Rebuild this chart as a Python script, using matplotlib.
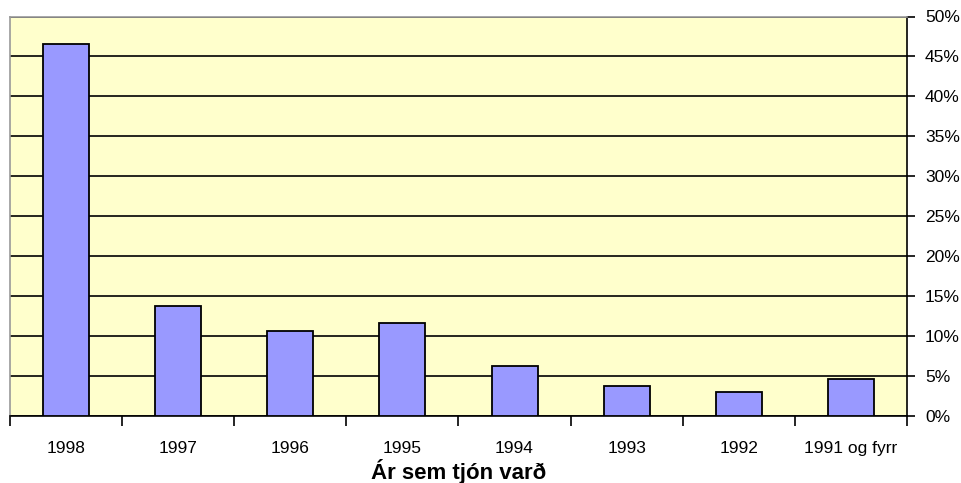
import matplotlib.pyplot as plt
import numpy as np
from matplotlib.ticker import FixedLocator, PercentFormatter

years = ['1998', '1997', '1996', '1995', '1994', '1993', '1992', '1991 og fyrr']
shares = [46.6, 13.75, 10.6, 11.6, 6.3, 3.7, 3.0, 4.6]

plt.rcParams['font.family'] = ['Liberation Sans', 'DejaVu Sans']

fig = plt.figure(figsize=(9.62, 4.83), dpi=100)
ax = fig.add_axes([10 / 962, 67 / 483, 897 / 962, 399.5 / 483])

x = np.arange(len(years))
ax.set_facecolor('#FFFFCC')
ax.bar(x, shares, width=0.41, color='#9999FF', edgecolor='black', linewidth=1.3, zorder=3)

ax.set_xlim(-0.5, len(years) - 0.5)
ax.set_ylim(0, 50)

# percent axis on the right, with black gridlines
ax.yaxis.tick_right()
ax.set_yticks(np.arange(0, 51, 5))
ax.yaxis.set_major_formatter(PercentFormatter(decimals=0))
ax.grid(axis='y', color='black', linewidth=1.2, zorder=1)
ax.tick_params(axis='y', direction='out', length=6, width=1.2, labelsize=12.5, pad=7)

# category labels centred, tick marks on the boundaries between them
ax.xaxis.set_major_locator(FixedLocator(np.arange(-0.5, len(years), 1)))
ax.xaxis.set_major_formatter(plt.NullFormatter())
ax.xaxis.set_minor_locator(FixedLocator(x))
ax.set_xticklabels(years, minor=True)
ax.tick_params(axis='x', which='major', direction='out', length=7, width=1.2)
ax.tick_params(axis='x', which='minor', length=0, labelsize=12.5, pad=18)

ax.set_xlabel('Ár sem tjón varð', fontsize=16, fontweight='bold', labelpad=2)

for side in ['left', 'top']:
    ax.spines[side].set_color('#999999')
    ax.spines[side].set_linewidth(1.2)
for side in ['right', 'bottom']:
    ax.spines[side].set_color('black')
    ax.spines[side].set_linewidth(1.2)

fig.savefig('out.png', dpi=100)
